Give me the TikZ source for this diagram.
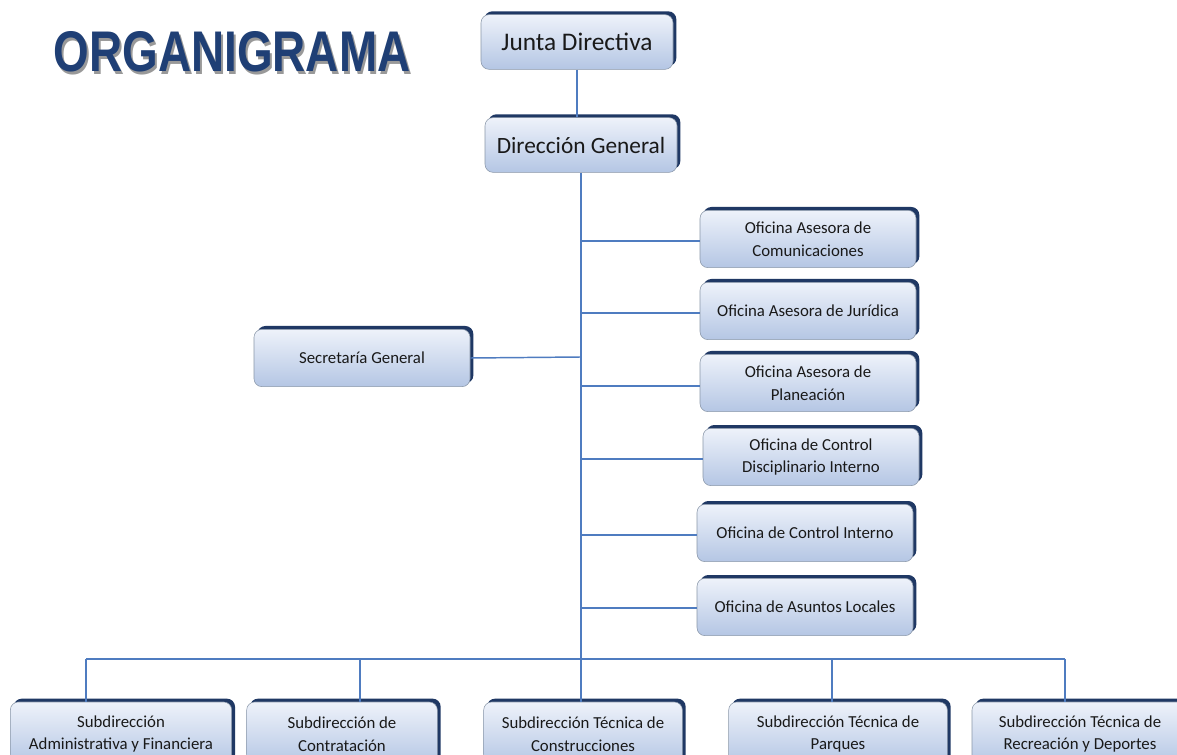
\documentclass[tikz,border=0pt]{standalone}
\usepackage{fontspec}
\setmainfont{Carlito}
\newfontfamily\titlefont{Liberation Sans}
\usetikzlibrary{shadows}

\definecolor{linea}{HTML}{4F7CC0}
\definecolor{cajaarriba}{HTML}{EEF2FA}
\definecolor{cajaabajo}{HTML}{B4C6E4}
\definecolor{sombra}{HTML}{1F3864}
\definecolor{borde}{HTML}{8A97A8}
\definecolor{titulo}{HTML}{1F3F75}

\newcommand{\titulotexto}{\titlefont\bfseries\fontsize{43}{43}\selectfont\scalebox{0.8}[1]{ORGANIGRAMA}}

\tikzset{
	unidad/.style={draw=borde, rounded corners=6pt, top color=cajaarriba, bottom color=cajaabajo,
		align=center, minimum width=162pt, minimum height=43pt, inner sep=2pt, text=black!90,
		font=\fontsize{12.6}{17}\selectfont,
		drop shadow={shadow xshift=2.5pt, shadow yshift=2.5pt, fill=sombra, opacity=1}},
	cabeza/.style={unidad, minimum width=144pt, minimum height=41pt, font=\fontsize{17.5}{20}\selectfont},
	conector/.style={draw=linea, line width=1.1pt}
}

\begin{document}
\begin{tikzpicture}[x=0.75pt, y=-0.75pt]
			\useasboundingbox[fill=white] (0,0) rectangle (1177,755);
			%title with its shadow
			\node (titulo) at (232,53) {\makebox[0pt][l]{\raisebox{-2pt}{\hspace{1.5pt}\color{black!40}\titulotexto}}\color{titulo}\titulotexto};
			
			%top
			\node[cabeza, font=\fontsize{19}{20}\selectfont] (junta) at (577,42) {Junta Directiva};
			\node[cabeza] (direccion) at (581,145) {Dirección General};
			
			%offices
			\node[unidad] (comunicaciones) at (808,239) {Oficina Asesora de\\Comunicaciones};
			\node[unidad] (juridica) at (808,311) {Oficina Asesora de Jurídica};
			\node[unidad] (planeacion) at (808,383) {Oficina Asesora de\\Planeación};
			\node[unidad] (disciplinario) at (811,457) {Oficina de Control\\Disciplinario Interno};
			\node[unidad] (control) at (805,533) {Oficina de Control Interno};
			\node[unidad] (locales) at (805,607) {Oficina de Asuntos Locales};
			\node[unidad] (secretaria) at (362,358) {Secretaría General};
			
			%subdirections
			\node[unidad, minimum width=166pt, minimum height=48pt] (administrativa) at (121,734) {Subdirección\\Administrativa y Financiera};
			\node[unidad, minimum width=143pt, minimum height=48pt] (contratacion) at (342,734) {Subdirección de\\Contratación};
			\node[unidad, minimum width=149pt, minimum height=48pt] (construcciones) at (583,734) {Subdirección Técnica de\\Construcciones};
			\node[unidad, minimum width=164pt, minimum height=48pt] (parques) at (838,734) {Subdirección Técnica de\\Parques};
			\node[unidad, minimum width=162pt, minimum height=48pt] (recreacion) at (1080,734) {Subdirección Técnica de\\Recreación y Deportes};
			
			%connectors
			\draw[conector] (junta.south) -- (junta.south |- direccion.north);
			\foreach \n/\y in {comunicaciones/241, juridica/313, planeacion/386, disciplinario/459, control/535, locales/608}{
				\coordinate (t\n) at (581,\y);
				\draw[conector] (t\n) -- (t\n -| \n.west);
			}
			\coordinate (tsecretaria) at (581,357);
			\draw[conector] (tsecretaria) -- (secretaria.east);
			\foreach \n/\x in {administrativa/86, contratacion/360, construcciones/581, parques/832, recreacion/1065}{
				\coordinate (b\n) at (\x,659);
				\draw[conector] (b\n) -- (b\n |- \n.north);
			}
			\draw[conector] (direccion.south) -- (bconstrucciones);
			\draw[conector] (badministrativa) -- (brecreacion);
\end{tikzpicture}
\end{document}
